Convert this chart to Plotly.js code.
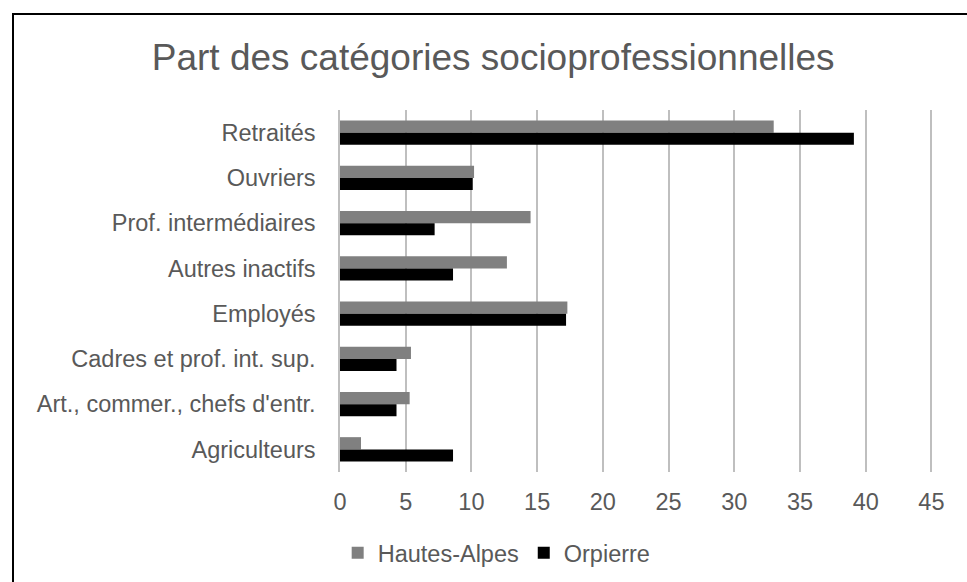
<!DOCTYPE html>
<html>
<head>
<meta charset="utf-8">
<script src="https://cdn.plot.ly/plotly-3.0.1.min.js"></script>
<style>
  html, body { margin: 0; padding: 0; overflow: hidden; background: #fff; }
  #chart { position: absolute; left: 0; top: 0; width: 967px; height: 582px; }
  /* chart-area border, runs off the right and bottom edges like the source */
  #frame { position: absolute; left: 12px; top: 13px; width: 2000px; height: 2000px;
           border: 2px solid #000; pointer-events: none; }
</style>
</head>
<body>
<div id="chart"></div>
<div id="frame"></div>
<script>
// categories, top to bottom
const categories = [
  "Retraités",
  "Ouvriers",
  "Prof. intermédiaires",
  "Autres inactifs",
  "Employés",
  "Cadres et prof. int. sup.",
  "Art., commer., chefs d'entr.",
  "Agriculteurs"
];

// share of each category (%)
const hautesAlpes = [33.0, 10.2, 14.5, 12.7, 17.3, 5.4, 5.3, 1.6];
const orpierre = [39.1, 10.1, 7.2, 8.6, 17.2, 4.3, 4.3, 8.6];

const xTicks = [0, 5, 10, 15, 20, 25, 30, 35, 40, 45];

const textColor = "#595959";
const fontFamily = "Liberation Sans, Arial, sans-serif";

const traces = [
  {
    type: "bar",
    orientation: "h",
    name: "Hautes-Alpes",
    y: categories,
    x: hautesAlpes,
    marker: { color: "#808080" },
    hoverinfo: "x+y"
  },
  {
    type: "bar",
    orientation: "h",
    name: "Orpierre",
    y: categories,
    x: orpierre,
    marker: { color: "#000000" },
    hoverinfo: "x+y"
  }
];

const layout = {
  width: 967,
  height: 582,
  // fixed margins: the legend must not push the plot area up
  margin: { l: 340, r: 29, t: 110, b: 110, autoexpand: false },
  paper_bgcolor: "#ffffff",
  plot_bgcolor: "#ffffff",
  font: { family: fontFamily, size: 23.5, color: textColor },
  title: {
    text: "Part des catégories socioprofessionnelles",
    font: { family: fontFamily, size: 37, color: textColor },
    xref: "container",
    x: 0.51,
    xanchor: "center",
    yref: "container",
    y: 0.902,
    yanchor: "middle"
  },
  barmode: "group",
  bargap: 0.46,
  bargroupgap: 0,
  xaxis: {
    // a bit past 45 so the last gridline is still drawn
    range: [0, 45.5],
    tickvals: xTicks,
    ticktext: xTicks.map(String),
    showgrid: true,
    gridcolor: "#bfbfbf",
    gridwidth: 1.5,
    zeroline: false,
    showline: false,
    ticks: "outside",
    ticklen: 9,
    tickcolor: "rgba(0,0,0,0)",
    tickfont: { size: 23.5, color: textColor },
    automargin: false
  },
  yaxis: {
    autorange: "reversed",
    showgrid: false,
    zeroline: false,
    showline: true,
    linecolor: "#bfbfbf",
    linewidth: 1.5,
    ticks: "outside",
    ticklen: 18,
    tickcolor: "rgba(0,0,0,0)",
    tickfont: { size: 23.5, color: textColor },
    automargin: false
  },
  showlegend: true,
  legend: {
    orientation: "h",
    x: 0.262,
    xanchor: "center",
    y: -0.224,
    yanchor: "middle",
    font: { size: 23.5, color: textColor },
    itemwidth: 30,
    bgcolor: "rgba(0,0,0,0)"
  }
};

Plotly.newPlot("chart", traces, layout, { displayModeBar: false });
</script>
</body>
</html>
